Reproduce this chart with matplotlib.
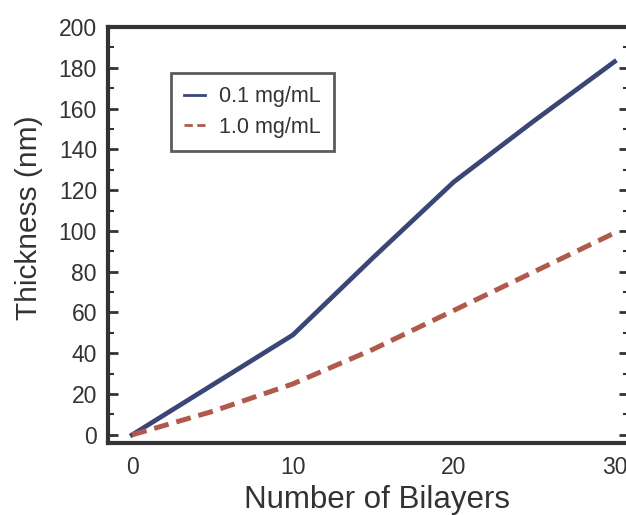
import matplotlib.pyplot as plt
from matplotlib.ticker import MultipleLocator

plt.rcParams['font.family'] = ['Liberation Sans', 'DejaVu Sans']

bilayers = [0, 5, 10, 15, 20, 25, 30]
thick_01 = [0, 24.5, 49, 87, 124, 154, 183]
thick_10 = [0, 11.5, 25, 42, 61, 80, 99]

dark = '#333333'
fig = plt.figure(figsize=(6.26, 5.15), dpi=100)
# right spine sits just outside the picture, as in the scan
ax = fig.add_axes([108 / 626, 1 - 443 / 515, (629 - 108) / 626, (443 - 27) / 515])

ax.plot(bilayers, thick_01, color='#3b4677', lw=3.4, label='0.1 mg/mL')
ax.plot(bilayers, thick_10, color='#b05a4c', lw=3.6, ls=(0, (3, 1.6)), label='1.0 mg/mL')

ax.set_xlim(-1.5, 30.9)
ax.set_ylim(-4, 200)
ax.set_xticks([0, 10, 20, 30])
ax.yaxis.set_major_locator(MultipleLocator(20))
ax.yaxis.set_minor_locator(MultipleLocator(10))

for s in ax.spines.values():
    s.set_linewidth(3)
    s.set_color(dark)

ax.tick_params(axis='y', which='both', direction='in', left=True, right=True,
               color=dark, labelsize=16.5, labelcolor=dark, pad=8)
ax.tick_params(axis='y', which='major', length=7, width=2)
ax.tick_params(axis='y', which='minor', length=4, width=1.5)
ax.tick_params(axis='x', which='both', length=0, labelsize=16.5, labelcolor=dark, pad=9)

ax.set_xlabel('Number of Bilayers', fontsize=22.5, color=dark)
ax.xaxis.set_label_coords(0.516, -0.1)
ax.set_ylabel('Thickness (nm)', fontsize=21.5, color=dark)
ax.yaxis.set_label_coords(-0.125, 0.541)

leg = ax.legend(loc='upper left', bbox_to_anchor=(0.121, 0.889), borderaxespad=0,
                fontsize=15.5, frameon=True, fancybox=False, handlelength=1.0,
                handletextpad=0.65, borderpad=0.6, labelspacing=0.45)
leg.get_frame().set_edgecolor(dark)
leg.get_frame().set_linewidth(2)
for line in leg.get_lines():
    line.set_linewidth(2)
for t in leg.get_texts():
    t.set_color(dark)

fig.savefig('out.png', dpi=100)
